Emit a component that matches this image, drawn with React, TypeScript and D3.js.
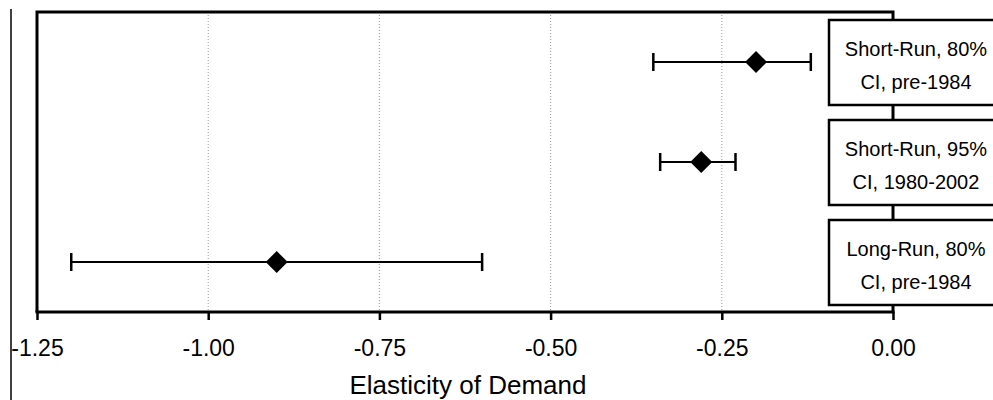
import * as d3 from "d3";
import { useEffect, useRef } from "react";

// categories (top to bottom) and their label lines
const categories = ["sr80", "sr95", "lr80"];
const labelLines = [
  ["Short-Run, 80%", "CI, pre-1984"],
  ["Short-Run, 95%", "CI, 1980-2002"],
  ["Long-Run, 80%", "CI, pre-1984"],
];
// point estimates and confidence bounds
const estimates = [-0.2, -0.28, -0.9];
const lowerBounds = [-0.35, -0.34, -1.2];
const upperBounds = [-0.12, -0.23, -0.6];
const tickValues = [-1.25, -1.0, -0.75, -0.5, -0.25, 0.0];
const axisTitle = "Elasticity of Demand";

const width = 993;
const height = 400;
const font = "'Liberation Sans', Arial, sans-serif";

export default function App() {
  const svgRef = useRef(null);

  useEffect(() => {
    if (!svgRef.current) return;
    const svg = d3.select(svgRef.current);
    svg.selectAll("*").remove();

    const left = 37;
    const right = 893;
    const top = 12;
    const bottom = 312;

    const x = d3.scaleLinear().domain([-1.25, 0]).range([left, right]);
    const y = d3.scaleBand().domain(categories).range([top, bottom]);
    const yc = (i: number) => y(categories[i])! + y.bandwidth() / 2;

    // outer left rule
    svg
      .append("line")
      .attr("x1", 11)
      .attr("x2", 11)
      .attr("y1", 9)
      .attr("y2", height)
      .attr("stroke", "#000")
      .attr("stroke-width", 1.5);

    // dotted gridlines
    svg
      .append("g")
      .selectAll("line")
      .data(tickValues.slice(1, -1))
      .join("line")
      .attr("x1", (d) => x(d))
      .attr("x2", (d) => x(d))
      .attr("y1", top)
      .attr("y2", bottom)
      .attr("stroke", "#999")
      .attr("stroke-width", 1)
      .attr("stroke-dasharray", "1,2");

    // plot frame: top, left, right
    svg
      .append("path")
      .attr("d", `M${left},${bottom}V${top}H${right}V${bottom}`)
      .attr("fill", "none")
      .attr("stroke", "#000")
      .attr("stroke-width", 3);

    // x axis
    const axis = svg
      .append("g")
      .attr("transform", `translate(0,${bottom})`)
      .call(
        d3
          .axisBottom(x)
          .tickValues(tickValues)
          .tickSize(8)
          .tickPadding(20)
          .tickFormat(d3.format(".2f")),
      );
    axis.select(".domain").attr("stroke-width", 3).attr("d", `M${left - 1.5},0H${right + 1.5}`);
    axis.selectAll(".tick line").attr("stroke-width", 2.5);
    axis
      .selectAll(".tick text")
      .attr("font-family", font)
      .attr("font-size", 23)
      .attr("fill", "#000")
      .attr("dy", "0.71em")
      .text((d: any) => d3.format(".2f")(d).replace("−", "-"));

    svg
      .append("text")
      .attr("x", 468)
      .attr("y", 394)
      .attr("text-anchor", "middle")
      .attr("font-family", font)
      .attr("font-size", 26)
      .text(axisTitle);

    // error bars
    const bars = svg.append("g").attr("stroke", "#000");
    categories.forEach((_, i) => {
      const cy = yc(i);
      bars
        .append("line")
        .attr("x1", x(lowerBounds[i]))
        .attr("x2", x(upperBounds[i]))
        .attr("y1", cy)
        .attr("y2", cy)
        .attr("stroke-width", 2);
      [lowerBounds[i], upperBounds[i]].forEach((v) => {
        bars
          .append("line")
          .attr("x1", x(v))
          .attr("x2", x(v))
          .attr("y1", cy - 9)
          .attr("y2", cy + 9)
          .attr("stroke-width", 2.5);
      });
    });

    // diamond markers
    svg
      .append("g")
      .selectAll("path")
      .data(estimates)
      .join("path")
      .attr("transform", (d, i) => `translate(${x(d)},${yc(i)})`)
      .attr("d", "M0,-11L11,0L0,11L-11,0Z")
      .attr("fill", "#000");

    // label boxes sitting on the right frame
    const boxes = svg
      .append("g")
      .selectAll("g")
      .data(labelLines)
      .join("g")
      .attr("transform", (d, i) => `translate(829,${yc(i) - 42})`);
    boxes
      .append("rect")
      .attr("width", 180)
      .attr("height", 85)
      .attr("fill", "#fff")
      .attr("stroke", "#000")
      .attr("stroke-width", 2.5);
    boxes
      .selectAll("text")
      .data((d) => d)
      .join("text")
      .attr("x", 87)
      .attr("y", (d, j) => 36 + j * 33)
      .attr("text-anchor", "middle")
      .attr("font-family", font)
      .attr("font-size", 20)
      .text((d) => d);
  }, []);

  return (
    <svg
      ref={svgRef}
      width={width}
      height={height}
      viewBox={`0 0 ${width} ${height}`}
      style={{ position: "absolute", left: 0, top: 0, background: "#fff", display: "block" }}
    />
  );
}
